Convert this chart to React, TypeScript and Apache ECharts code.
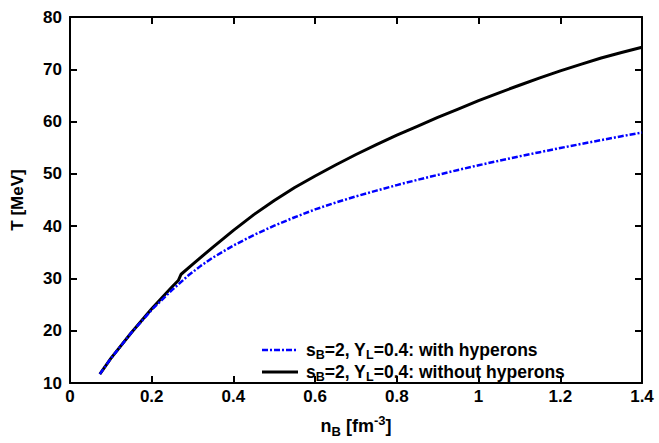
import React, { useEffect, useRef } from "react";
import * as echarts from "echarts";

const xWith = [0.073, 0.1, 0.15, 0.2, 0.25, 0.27, 0.29, 0.32, 0.35, 0.4, 0.45, 0.5, 0.55, 0.6, 0.65, 0.7, 0.75, 0.8, 0.85, 0.9, 0.95, 1.0, 1.05, 1.1, 1.15, 1.2, 1.25, 1.3, 1.35, 1.4];
const tWith = [11.7, 14.7, 19.6, 24.0, 27.8, 29.2, 30.6, 32.4, 34.0, 36.3, 38.3, 40.1, 41.7, 43.2, 44.5, 45.7, 46.8, 47.85, 48.85, 49.8, 50.75, 51.65, 52.5, 53.35, 54.15, 54.95, 55.7, 56.45, 57.2, 57.9];

const xWithout = [0.073, 0.1, 0.15, 0.2, 0.25, 0.265, 0.272, 0.3, 0.35, 0.4, 0.45, 0.5, 0.55, 0.6, 0.65, 0.7, 0.75, 0.8, 0.85, 0.9, 0.95, 1.0, 1.05, 1.1, 1.15, 1.2, 1.25, 1.3, 1.35, 1.4];
const tWithout = [11.7, 14.7, 19.6, 24.2, 28.4, 29.6, 30.8, 32.7, 36.0, 39.2, 42.2, 44.9, 47.4, 49.6, 51.7, 53.7, 55.6, 57.4, 59.1, 60.8, 62.4, 64.0, 65.5, 66.95, 68.35, 69.7, 70.95, 72.15, 73.2, 74.2];

const seriesNames = ["with hyperons", "without hyperons"];
const legendPrefix = "{b|s}{sub|B}{b|=2, Y}{sub|L}{b|=0.4: ";

export default function App() {
  const ref = useRef<HTMLDivElement>(null);
  useEffect(() => {
    const chart = echarts.init(ref.current!, null, { renderer: "svg" });
    const font = "'Liberation Sans', Arial, sans-serif";
    const baseText = { fontFamily: font, fontWeight: "bold" as const, color: "#000" };
    const axisCommon = {
      axisLine: { show: true, onZero: false, lineStyle: { color: "#000", width: 2 } },
      axisTick: { show: true, inside: true, length: 7, lineStyle: { color: "#000", width: 2 } },
      splitLine: { show: false },
    };
    const legendRich = {
      b: { ...baseText, fontSize: 17.5, lineHeight: 22, verticalAlign: "middle" },
      sub: { ...baseText, fontSize: 12.5, lineHeight: 22, verticalAlign: "bottom", padding: [7, 0, 0, 0] },
    };
    const blue = "#0000ff";
    chart.setOption({
      animation: false,
      backgroundColor: "#fff",
      grid: { left: 70, right: 17, top: 17, bottom: 59, containLabel: false },
      xAxis: [
        {
          type: "value",
          min: 0,
          max: 1.4,
          interval: 0.2,
          ...axisCommon,
          axisLabel: { ...baseText, fontSize: 17, margin: 5, formatter: (v: number) => String(Math.round(v * 10) / 10) },
          name: "{b|n}{sub|B}{b| [fm}{sup|-3}{b|]}",
          nameLocation: "middle",
          nameGap: 31,
          nameTextStyle: {
            ...baseText,
            fontSize: 18,
            rich: {
              b: { ...baseText, fontSize: 18, lineHeight: 24, verticalAlign: "middle" },
              sub: { ...baseText, fontSize: 13, lineHeight: 24, verticalAlign: "bottom", padding: [9, 0, 0, 0] },
              sup: { ...baseText, fontSize: 13, lineHeight: 24, verticalAlign: "top", padding: [0, 0, 9, 0] },
            },
          },
        },
        {
          type: "value",
          position: "top",
          min: 0,
          max: 1.4,
          interval: 0.2,
          ...axisCommon,
          axisLabel: { show: false },
        },
      ],
      yAxis: [
        {
          type: "value",
          min: 10,
          max: 80,
          interval: 10,
          ...axisCommon,
          axisLabel: { ...baseText, fontSize: 17, margin: 8 },
          name: "T [MeV]",
          nameLocation: "middle",
          nameGap: 44,
          nameRotate: 90,
          nameTextStyle: { ...baseText, fontSize: 17 },
        },
        {
          type: "value",
          position: "right",
          min: 10,
          max: 80,
          interval: 10,
          ...axisCommon,
          axisLabel: { show: false },
        },
      ],
      graphic: [
        {
          type: "line",
          shape: { x1: 262, y1: 350, x2: 298, y2: 350 },
          style: { stroke: blue, lineWidth: 2.5, lineDash: [6, 2, 2, 2] },
        },
        {
          type: "text",
          x: 306,
          y: 350,
          style: {
            text: legendPrefix + seriesNames[0] + "}",
            rich: legendRich,
            verticalAlign: "middle",
            align: "left",
          },
        },
        {
          type: "line",
          shape: { x1: 262, y1: 372, x2: 298, y2: 372 },
          style: { stroke: "#000", lineWidth: 3 },
        },
        {
          type: "text",
          x: 306,
          y: 372,
          style: {
            text: legendPrefix + seriesNames[1] + "}",
            rich: legendRich,
            verticalAlign: "middle",
            align: "left",
          },
        },
      ],
      series: [
        {
          name: seriesNames[0],
          type: "line",
          showSymbol: false,
          symbol: "none",
          smooth: false,
          data: xWith.map((x, i) => [x, tWith[i]]),
          lineStyle: { color: blue, width: 2.5, type: [6, 2, 2, 2] },
          itemStyle: { color: blue },
          z: 3,
        },
        {
          name: seriesNames[1],
          type: "line",
          showSymbol: false,
          symbol: "none",
          smooth: false,
          data: xWithout.map((x, i) => [x, tWithout[i]]),
          lineStyle: { color: "#000", width: 3, type: "solid" },
          itemStyle: { color: "#000" },
          z: 2,
        },
      ],
    });
    return () => chart.dispose();
  }, []);
  return (
    <div
      ref={ref}
      style={{ position: "fixed", left: 0, top: 0, width: 659, height: 443, background: "#fff" }}
    />
  );
}
